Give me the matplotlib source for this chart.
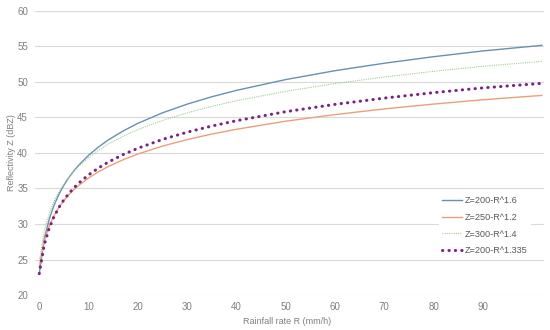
import matplotlib
matplotlib.use("Agg")
import matplotlib.pyplot as plt

# category positions (rainfall-rate axis index) and values
x_pos = [0, 1, 2, 3, 4, 5, 6, 7, 8, 10, 12, 14, 17, 20, 25, 30, 35, 40, 50, 60, 70, 80, 90, 102]
z_200_16 = [23.01, 27.83, 30.64, 32.64, 34.19, 35.46, 36.53, 37.46, 38.28, 39.67, 40.83, 41.83,
            43.09, 44.17, 45.65, 46.87, 47.91, 48.81, 50.33, 51.58, 52.63, 53.55, 54.36, 55.15]
z_250_12 = [23.98, 27.59, 29.71, 31.20, 32.37, 33.32, 34.12, 34.82, 35.43, 36.48, 37.35, 38.09,
            39.04, 39.85, 40.96, 41.88, 42.66, 43.33, 44.47, 45.40, 46.20, 46.88, 47.49, 48.10]
z_300_14 = [24.77, 28.98, 31.45, 33.20, 34.56, 35.66, 36.60, 37.41, 38.13, 39.35, 40.37, 41.24,
            42.34, 43.28, 44.58, 45.65, 46.56, 47.35, 48.68, 49.77, 50.69, 51.49, 52.20, 52.90]
z_200_1335 = [23.01, 27.03, 29.38, 31.05, 32.34, 33.40, 34.29, 35.07, 35.75, 36.91, 37.88, 38.71,
              39.77, 40.66, 41.90, 42.92, 43.79, 44.54, 45.81, 46.84, 47.72, 48.49, 49.16, 49.80]
labels = ["Z=200-R^1.6", "Z=250-R^1.2", "Z=300-R^1.4", "Z=200-R^1.335"]
x_ticks = [0, 10, 20, 30, 40, 50, 60, 70, 80, 90]
y_ticks = [20, 25, 30, 35, 40, 45, 50, 55, 60]

plt.rcParams['font.family'] = ['Liberation Sans', 'DejaVu Sans']
txt = '#7f7f7f'

fig = plt.figure(figsize=(5.5, 3.3), dpi=100)
ax = fig.add_axes([0.0636, 0.106, 0.9254, 0.861])

ax.plot(x_pos, z_200_16, color='#6592b2', lw=1.0, label=labels[0])
ax.plot(x_pos, z_250_12, color='#e9a07a', lw=1.0, label=labels[1])
ax.plot(x_pos, z_300_14, color='#a3cc94', lw=0.8, linestyle=(0, (1, 1)), label=labels[2])
ax.plot(x_pos, z_200_1335, color='#7b2382', lw=2.2, linestyle=(0, (0.1, 2.0)),
        dash_capstyle='round', label=labels[3])

ax.set_xlim(-0.87, 102.4)
ax.set_ylim(20, 60)
ax.set_xticks(x_ticks)
ax.set_yticks(y_ticks)
ax.grid(axis='y', color='#d9d9d9', lw=0.8)
ax.set_axisbelow(True)
for s in ax.spines.values():
    s.set_visible(False)
ax.tick_params(length=0, labelsize=7, labelcolor=txt)
ax.tick_params(axis='x', pad=5)
ax.tick_params(axis='y', pad=5)
fig.text(287 / 550, 1 - 322 / 330, 'Rainfall rate R (mm/h)', fontsize=6.5, color=txt,
         ha='center', va='center')
fig.text(12 / 550, 1 - 153 / 330, 'Reflectivity Z (dBZ)', fontsize=6.5, color=txt,
         ha='center', va='center', rotation=90)

leg = ax.legend(loc='lower right', bbox_to_anchor=(0.974, 0.13), frameon=True, fontsize=6.6,
                handlelength=2.2, handletextpad=0.35, labelspacing=0.85, borderpad=0.3,
                borderaxespad=0)
leg.get_frame().set_edgecolor('none')
leg.get_frame().set_facecolor('white')
leg.get_frame().set_alpha(1)
for t in leg.get_texts():
    t.set_color('#595959')

fig.savefig('out.png', dpi=100)
